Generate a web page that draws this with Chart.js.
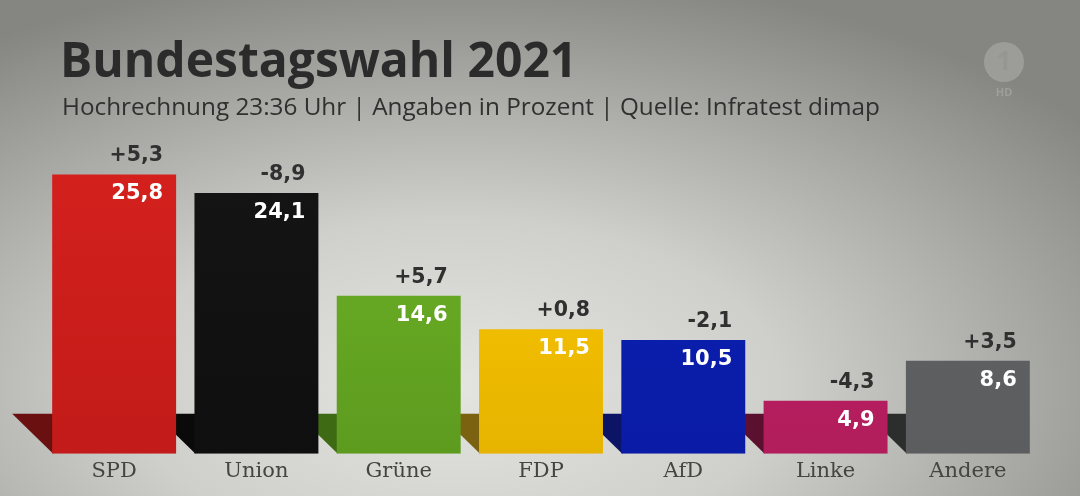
<!DOCTYPE html>
<html>
<head>
<meta charset="utf-8">
<script src="https://cdn.jsdelivr.net/npm/chart.js@4"></script>
<style>
  html, body { margin: 0; padding: 0; }
  body {
    width: 1080px; height: 496px; overflow: hidden; position: relative;
    background: radial-gradient(ellipse 75% 85% at 42% 78%, #e4e4e0 0%, #cfcfcb 40%, #a4a4a0 75%, #858582 100%);
    font-family: "Open Sans", sans-serif;
  }
  #title { position: absolute; left: 60px; top: 26px; font-size: 48px; font-weight: 700; color: #2b2b2b; }
  #subtitle { position: absolute; left: 62px; top: 89px; font-size: 24.3px; color: #303030; }
  #chart { position: absolute; left: 0; top: 0; }
</style>
</head>
<body>
<canvas id="chart" width="1080" height="496"></canvas>
<div id="title">Bundestagswahl 2021</div>
<div id="subtitle">Hochrechnung 23:36 Uhr | Angaben in Prozent | Quelle: Infratest dimap</div>
<script>
  const parties = ["SPD", "Union", "Grüne", "FDP", "AfD", "Linke", "Andere"];
  const shares = [25.8, 24.1, 14.6, 11.5, 10.5, 4.9, 8.6];
  const changes = ["+5,3", "-8,9", "+5,7", "+0,8", "-2,1", "-4,3", "+3,5"];
  const topColors = ["#d6211e", "#151515", "#6fb526", "#ffcc00", "#0b20b4", "#bf2266", "#626365"];
  const bottomColors = ["#c21b19", "#0f0f0f", "#5d9b1f", "#e6b300", "#0a1ca6", "#b21d5c", "#5c5d5f"];
  const shadowColors = ["#6b1010", "#0a0a0a", "#3f6a14", "#7a6210", "#0c1466", "#5c1030", "#2c2e2e"];

  const fmt = (v) => v.toFixed(1).replace(".", ",");

  const barDeco = {
    id: "barDeco",
    beforeDatasetsDraw(chart) {
      const ctx = chart.ctx;
      const meta = chart.getDatasetMeta(0);
      meta.data.forEach((bar, i) => {
        const left = bar.x - bar.width / 2;
        const bottom = bar.base;
        ctx.save();
        ctx.fillStyle = shadowColors[i];
        ctx.beginPath();
        ctx.moveTo(left - 40, bottom - 40);
        ctx.lineTo(left + 1, bottom - 40);
        ctx.lineTo(left + 1, bottom);
        ctx.closePath();
        ctx.fill();
        ctx.restore();
      });
    },
    afterDatasetsDraw(chart) {
      const ctx = chart.ctx;
      const meta = chart.getDatasetMeta(0);
      meta.data.forEach((bar, i) => {
        const right = bar.x + bar.width / 2 - 13;
        ctx.save();
        ctx.textAlign = "right";
        ctx.textBaseline = "alphabetic";
        ctx.font = "700 21px 'DejaVu Sans'";
        ctx.fillStyle = "#ffffff";
        ctx.fillText(fmt(shares[i]), right, bar.y + 25);
        ctx.font = "700 20.5px 'DejaVu Sans'";
        ctx.fillStyle = "#303030";
        ctx.fillText(changes[i], right, bar.y - 13);
        ctx.restore();
      });
      // channel logo
      ctx.save();
      ctx.globalAlpha = 0.35;
      ctx.fillStyle = "#c8c8c4";
      ctx.beginPath();
      ctx.arc(1004, 62, 20, 0, Math.PI * 2);
      ctx.fill();
      ctx.fillStyle = "#8a8a86";
      ctx.font = "700 26px 'Open Sans'";
      ctx.textAlign = "center";
      ctx.textBaseline = "middle";
      ctx.fillText("1", 1004, 63);
      ctx.fillStyle = "#c8c8c4";
      ctx.font = "700 11px 'Open Sans'";
      ctx.fillText("HD", 1004, 93);
      ctx.restore();
    }
  };

  new Chart(document.getElementById("chart"), {
    type: "bar",
    data: {
      labels: parties,
      datasets: [
        {
          data: shares,
          backgroundColor: (c) => {
            const area = c.chart.chartArea;
            if (!area) return topColors[c.dataIndex];
            const g = c.chart.ctx.createLinearGradient(0, area.top, 0, area.bottom);
            g.addColorStop(0, topColors[c.dataIndex]);
            g.addColorStop(1, bottomColors[c.dataIndex]);
            return g;
          },
          borderWidth: 0,
          barPercentage: 0.871,
          categoryPercentage: 1,
        },
      ],
    },
    options: {
      responsive: false,
      animation: false,
      layout: { padding: { left: 43, right: 41, top: 129, bottom: 15 } },
      plugins: {
        legend: { display: false },
        tooltip: { enabled: false },
      },
      scales: {
        y: { display: false, min: 0, max: 30 },
        x: {
          grid: { display: false },
          border: { display: false },
          ticks: {
            color: "#444442",
            padding: -3,
            font: { family: "'DejaVu Serif'", size: 21 },
          },
        },
      },
    },
    plugins: [barDeco],
  });
</script>
</body>
</html>
